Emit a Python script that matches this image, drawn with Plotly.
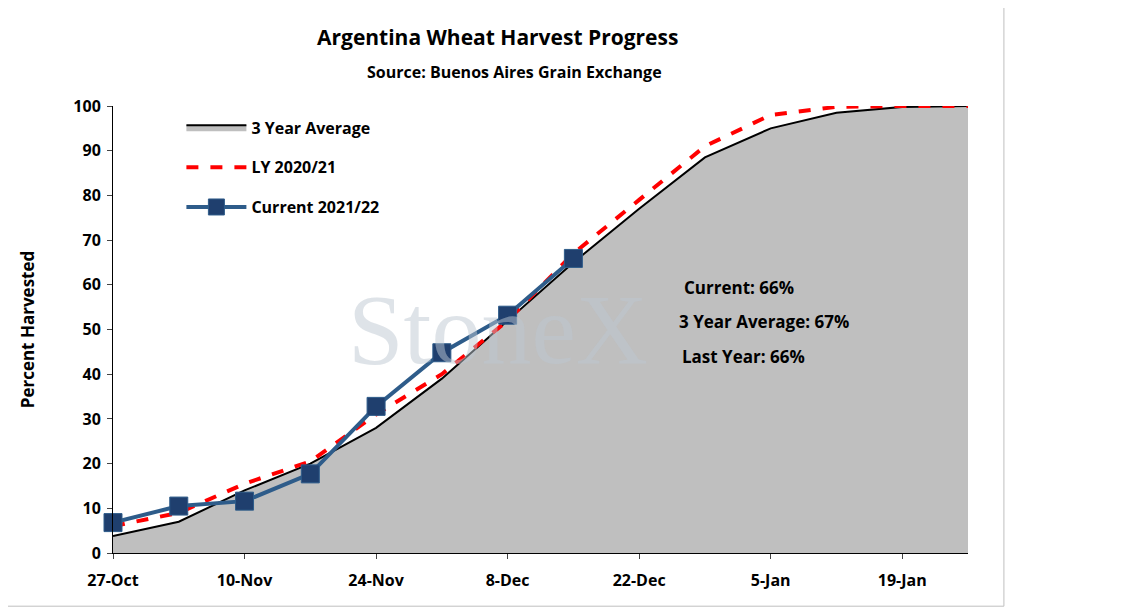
import plotly.graph_objects as go

dates = ["2021-10-27","2021-11-03","2021-11-10","2021-11-17","2021-11-24","2021-12-01","2021-12-08",
         "2021-12-15","2021-12-22","2021-12-29","2022-01-05","2022-01-12","2022-01-19","2022-01-26"]
avg3 = [3.8, 7, 14, 20, 28, 39, 52, 65, 77, 88.5, 95, 98.5, 99.8, 100]
ly = [6, 9, 15.5, 20.5, 31, 40, 52, 67, 79, 91, 98, 99.8, 100, 100]
cur_dates = dates[:8]
cur = [6.8, 10.5, 11.6, 17.7, 32.8, 44.8, 53.2, 65.9]
tick_vals = ["2021-10-27","2021-11-10","2021-11-24","2021-12-08","2021-12-22","2022-01-05","2022-01-19"]
tick_text = ["27-Oct","10-Nov","24-Nov","8-Dec","22-Dec","5-Jan","19-Jan"]

F = "Open Sans"
fig = go.Figure()
fig.add_trace(go.Scatter(x=dates, y=avg3, name="3 Year Average", mode="lines", fill="tozeroy", legendgroup="a",
                         fillcolor="#BFBFBF", line=dict(color="black", width=2)))
fig.add_trace(go.Scatter(x=dates, y=ly, name="LY 2020/21", mode="lines", legendgroup="b",
                         line=dict(color="#FF0000", width=4, dash="dash")))
fig.add_trace(go.Scatter(x=cur_dates, y=cur, name="Current 2021/22", mode="lines+markers", cliponaxis=False,
                         legendgroup="c", line=dict(color="#2E5C8A", width=4),
                         marker=dict(symbol="square", size=18, color="#1F3F6E", line=dict(color="#2E5C8A", width=1))))

fig.update_layout(
    width=1137, height=608, plot_bgcolor="white", paper_bgcolor="white",
    margin=dict(l=105, r=177, t=98, b=63),
    font=dict(family=F, size=16, color="black"),
    showlegend=True,
    legend=dict(x=0.08, y=0.99, xanchor="left", yanchor="top", bgcolor="rgba(0,0,0,0)",
                font=dict(family=F, size=16, color="black", weight="bold"), itemwidth=60, tracegroupgap=16),
    xaxis=dict(type="date", range=["2021-10-27","2022-01-26"], tickvals=tick_vals, ticktext=tick_text,
               showgrid=False, showline=True, linecolor="black", linewidth=1, ticks="outside",
               ticklabelstandoff=8,
               tickfont=dict(family=F, size=16, weight="bold")),
    yaxis=dict(range=[0,100], dtick=10, showgrid=False, showline=True, linecolor="black", ticks="outside",
               ticklabelstandoff=3,
               tickfont=dict(family=F, size=16, weight="bold"),
               title=dict(text="Percent Harvested", font=dict(family=F, size=17, weight="bold"), standoff=34)),
    shapes=[dict(type="rect", xref="paper", yref="paper", x0=-0.131, x1=1.042, y0=-0.119, y1=1.235,
                 line=dict(color="#BFBFBF", width=1))],
    annotations=[
        dict(text="Argentina Wheat Harvest Progress", xref="paper", yref="paper", x=0.45, y=1.19,
             showarrow=False, font=dict(family=F, size=21, weight="bold")),
        dict(text="Source: Buenos Aires Grain Exchange", xref="paper", yref="paper", x=0.47, y=1.105,
             showarrow=False, font=dict(family=F, size=16, weight="bold")),
        dict(text="StoneX", xref="paper", yref="paper", x=0.45, y=0.50, showarrow=False,
             font=dict(family="Liberation Serif", size=100, color="rgba(190,200,210,0.5)")),
        dict(text="Current: 66%", xref="paper", yref="paper", x=0.665, y=0.595, xanchor="left",
             showarrow=False, font=dict(family=F, size=17, weight="bold")),
        dict(text="3 Year Average: 67%", xref="paper", yref="paper", x=0.66, y=0.518, xanchor="left",
             showarrow=False, font=dict(family=F, size=17, weight="bold")),
        dict(text="Last Year: 66%", xref="paper", yref="paper", x=0.663, y=0.44, xanchor="left",
             showarrow=False, font=dict(family=F, size=17, weight="bold")),
    ],
)
fig.write_html("out.html")
